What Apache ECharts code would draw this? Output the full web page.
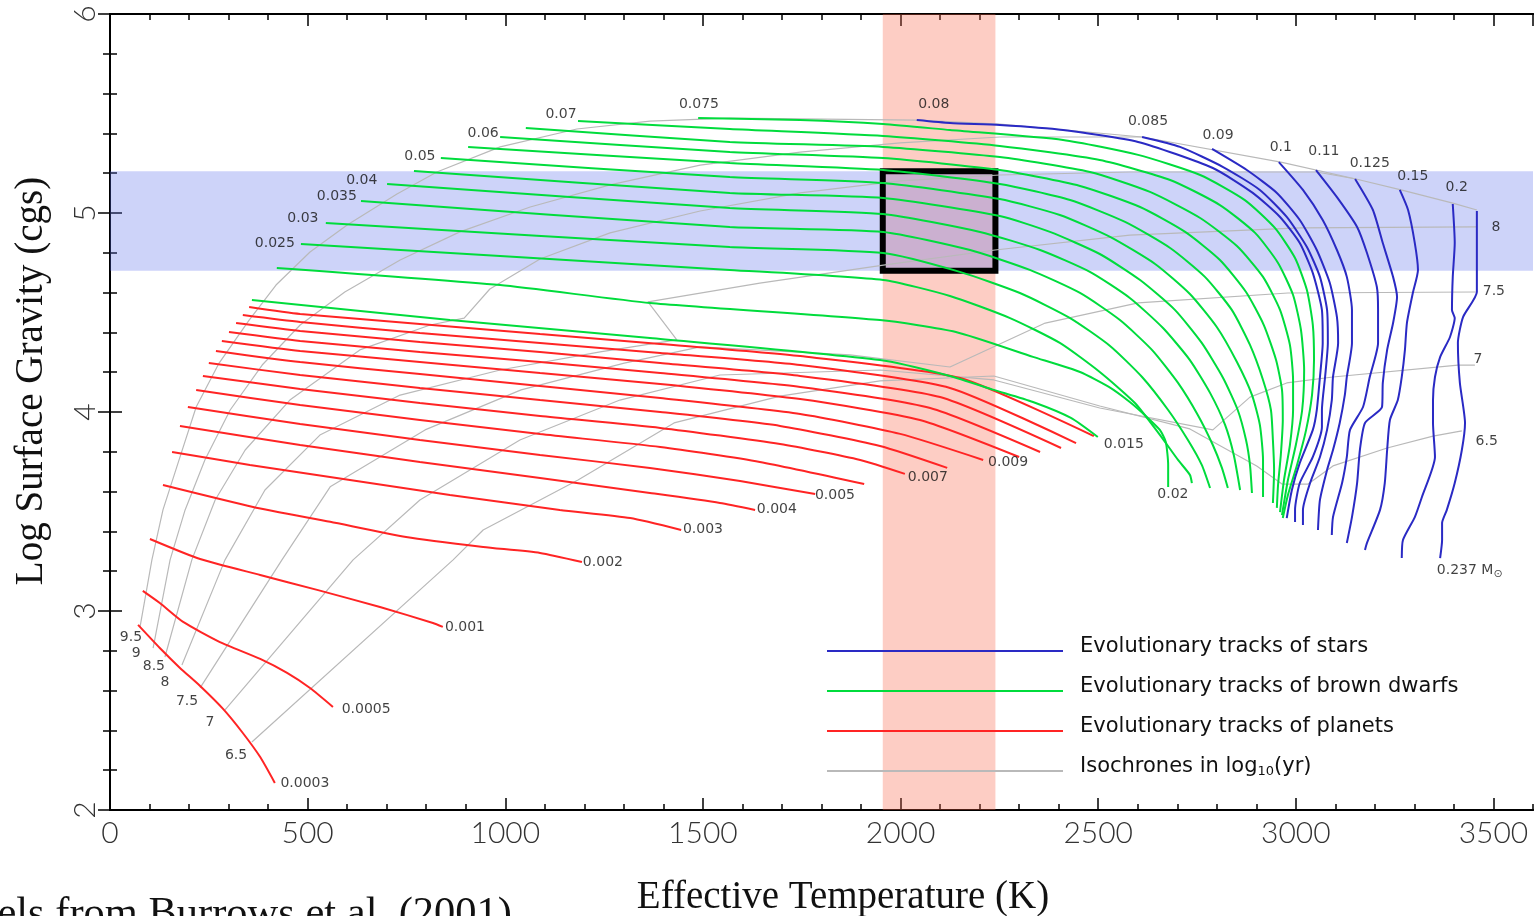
<!DOCTYPE html>
<html><head><meta charset="utf-8">
<script src="https://cdn.jsdelivr.net/npm/echarts@6/dist/echarts.min.js"></script>
<style>html,body{margin:0;padding:0;background:#fff}#c{width:1539px;height:916px}</style>
</head><body><div id="c"></div>
<script>
// ---- axis ticks ----
const xMajorTicks = [0, 500, 1000, 1500, 2000, 2500, 3000, 3500];
const yMajorTicks = [2, 3, 4, 5, 6];
// ---- shaded regions (Teff band, log g band) ----
const tempBand = [1955, 2240];
const gravBand = [4.71, 5.21];
// ---- planets (red) [Teff K, log g] ----
const p_0003 = [[71,2.930],[126,2.814],[177,2.714],[228,2.623],[286,2.508],[336,2.387],[380,2.266],[417,2.136]];
const p_0005 = [[83,3.101],[126,3.040],[185,2.945],[278,2.844],[380,2.759],[448,2.689],[506,2.613],[564,2.518]];
const p_001 = [[101,3.362],[228,3.261],[380,3.181],[524,3.106],[683,3.020],[817,2.940],[842,2.920]];
const p_002 = [[134,3.633],[362,3.523],[557,3.448],[749,3.372],[944,3.322],[1088,3.292],[1194,3.246]];
const p_003 = [[157,3.799],[354,3.734],[607,3.658],[860,3.583],[1138,3.508],[1316,3.467],[1445,3.407]];
const p_004 = [[177,3.930],[481,3.834],[784,3.749],[1088,3.668],[1366,3.593],[1543,3.543],[1632,3.508]];
const p_005 = [[197,4.025],[481,3.940],[784,3.859],[1088,3.784],[1366,3.719],[1594,3.653],[1784,3.588]];
const p_006 = [[218,4.111],[481,4.035],[784,3.960],[1088,3.889],[1392,3.824],[1644,3.749],[1908,3.638]];
const p_007 = [[235,4.181],[481,4.116],[784,4.045],[1088,3.980],[1392,3.920],[1695,3.839],[1898,3.759],[2011,3.689]];
const p_008 = [[250,4.246],[481,4.186],[784,4.121],[1088,4.060],[1392,4.000],[1695,3.930],[1948,3.829],[2118,3.719]];
const p_009 = [[268,4.307],[481,4.251],[784,4.191],[1088,4.131],[1392,4.070],[1746,3.990],[1999,3.890],[2209,3.759]];
const p_010 = [[283,4.357],[481,4.307],[784,4.251],[1088,4.196],[1392,4.141],[1746,4.065],[2049,3.960],[2300,3.774]];
const p_011 = [[301,4.402],[481,4.357],[784,4.302],[1088,4.251],[1392,4.196],[1746,4.126],[2075,4.020],[2353,3.799]];
const p_012 = [[319,4.447],[481,4.407],[784,4.352],[1088,4.302],[1392,4.246],[1746,4.181],[2100,4.075],[2406,3.819]];
const p_013 = [[336,4.487],[481,4.452],[784,4.397],[1088,4.347],[1392,4.297],[1746,4.236],[2125,4.121],[2444,3.844]];
const p_014 = [[352,4.528],[481,4.493],[784,4.442],[1088,4.392],[1392,4.342],[1746,4.281],[2151,4.171],[2489,3.879]];
// ---- brown dwarfs (green) ----
const bd_015 = [[359,4.563],[860,4.462],[1366,4.372],[1948,4.261],[2125,4.181],[2236,4.111],[2335,4.050],[2431,3.970],[2499,3.874]];
const bd_020 = [[422,4.724],[987,4.638],[1366,4.548],[1948,4.462],[2140,4.402],[2335,4.277],[2454,4.201],[2527,4.126],[2580,4.050],[2623,3.975],[2656,3.910],[2671,3.849],[2677,3.734],[2677,3.623]];
const bd_025 = [[483,4.844],[1568,4.714],[1956,4.663],[2125,4.583],[2277,4.472],[2403,4.347],[2504,4.201],[2593,4.045],[2656,3.885],[2702,3.759],[2732,3.684],[2737,3.643]];
const bd_030 = [[546,4.950],[1568,4.829],[1956,4.799],[2150,4.704],[2302,4.598],[2429,4.472],[2530,4.332],[2611,4.176],[2677,4.010],[2727,3.859],[2762,3.734],[2783,3.618]];
const bd_035 = [[635,5.060],[1568,4.930],[1956,4.905],[2176,4.814],[2327,4.714],[2454,4.598],[2555,4.462],[2636,4.312],[2702,4.146],[2752,3.985],[2790,3.834],[2813,3.719],[2828,3.618]];
const bd_040 = [[701,5.146],[1568,5.025],[1956,4.995],[2201,4.905],[2353,4.814],[2479,4.704],[2580,4.573],[2664,4.422],[2732,4.261],[2783,4.096],[2821,3.935],[2843,3.784],[2859,3.608]];
const bd_045 = [[769,5.211],[1568,5.101],[1956,5.075],[2251,4.985],[2378,4.905],[2504,4.794],[2606,4.663],[2694,4.513],[2762,4.347],[2816,4.171],[2853,4.010],[2874,3.859],[2884,3.734],[2889,3.593]];
const bd_050 = [[837,5.276],[1568,5.181],[1956,5.151],[2251,5.070],[2403,4.990],[2530,4.880],[2644,4.744],[2732,4.593],[2800,4.427],[2851,4.251],[2889,4.086],[2909,3.935],[2917,3.759],[2917,3.573]];
const bd_055 = [[906,5.332],[1568,5.251],[1956,5.216],[2251,5.146],[2429,5.065],[2568,4.955],[2682,4.824],[2770,4.679],[2838,4.513],[2884,4.337],[2917,4.161],[2937,4.010],[2942,3.859],[2945,3.709],[2942,3.543]];
const bd_060 = [[987,5.382],[1568,5.307],[1956,5.276],[2251,5.216],[2454,5.136],[2606,5.030],[2720,4.905],[2808,4.764],[2874,4.603],[2919,4.437],[2950,4.261],[2965,4.111],[2967,3.960],[2962,3.784],[2955,3.633],[2952,3.518]];
const bd_065 = [[1052,5.427],[1568,5.357],[1956,5.332],[2251,5.281],[2479,5.206],[2631,5.106],[2758,4.975],[2851,4.834],[2917,4.679],[2960,4.513],[2985,4.337],[2993,4.161],[2993,4.010],[2985,3.834],[2970,3.658],[2960,3.497]];
const bd_070 = [[1184,5.462],[1568,5.422],[1956,5.387],[2251,5.337],[2504,5.266],[2682,5.166],[2808,5.040],[2897,4.900],[2955,4.749],[2993,4.588],[3013,4.412],[3021,4.211],[3016,4.010],[3000,3.834],[2980,3.658],[2965,3.482]];
const bd_075 = [[1488,5.477],[1746,5.467],[1956,5.447],[2125,5.417],[2411,5.367],[2601,5.292],[2758,5.191],[2871,5.065],[2947,4.925],[2998,4.774],[3028,4.613],[3043,4.437],[3046,4.261],[3041,4.086],[3026,3.910],[3003,3.734],[2980,3.583],[2967,3.467]];
// ---- stars (blue) ----
const st_080 = [[2041,5.467],[2125,5.452],[2251,5.442],[2411,5.417],[2601,5.357],[2790,5.226],[2891,5.101],[2960,4.980],[3010,4.849],[3043,4.698],[3066,4.513],[3068,4.347],[3061,4.176],[3053,4.010],[3043,3.910],[3010,3.744],[2990,3.608],[2977,3.467]];
const st_085 = [[2611,5.382],[2707,5.332],[2816,5.231],[2909,5.116],[2977,4.980],[3028,4.829],[3061,4.679],[3079,4.513],[3081,4.347],[3074,4.176],[3066,4.010],[3066,3.925],[3043,3.774],[3010,3.643],[2998,3.508],[2998,3.447]];
const st_090 = [[2788,5.322],[2876,5.216],[2952,5.101],[3010,4.965],[3053,4.814],[3086,4.648],[3104,4.477],[3107,4.347],[3094,4.176],[3091,4.060],[3079,3.910],[3061,3.774],[3036,3.643],[3018,3.508],[3018,3.432]];
const st_100 = [[2957,5.256],[3018,5.116],[3068,4.965],[3104,4.814],[3129,4.679],[3142,4.513],[3142,4.347],[3129,4.176],[3124,4.086],[3111,3.945],[3094,3.809],[3079,3.709],[3061,3.558],[3056,3.407]];
const st_110 = [[3051,5.216],[3104,5.080],[3155,4.930],[3180,4.799],[3205,4.628],[3208,4.513],[3208,4.347],[3187,4.176],[3170,4.025],[3137,3.910],[3129,3.774],[3117,3.643],[3094,3.472],[3091,3.382]];
const st_125 = [[3150,5.171],[3195,5.015],[3220,4.849],[3246,4.679],[3256,4.578],[3246,4.447],[3231,4.312],[3220,4.146],[3218,4.025],[3175,3.945],[3162,3.809],[3155,3.643],[3142,3.472],[3129,3.342]];
const st_150 = [[3263,5.116],[3284,5.015],[3301,4.849],[3309,4.714],[3296,4.598],[3281,4.447],[3276,4.312],[3268,4.176],[3258,4.060],[3238,3.960],[3231,3.809],[3225,3.643],[3213,3.508],[3180,3.342],[3175,3.307]];
const st_200 = [[3397,5.045],[3402,4.849],[3397,4.679],[3395,4.513],[3402,4.472],[3390,4.377],[3365,4.276],[3352,4.176],[3347,4.060],[3347,3.945],[3352,3.774],[3319,3.573],[3301,3.472],[3271,3.357],[3268,3.266]];
const st_237 = [[3458,5.010],[3458,4.814],[3458,4.603],[3423,4.477],[3410,4.347],[3415,4.146],[3428,3.945],[3420,3.809],[3402,3.643],[3382,3.508],[3370,3.442],[3370,3.357],[3365,3.266]];
// ---- isochrones (grey), log10 age ----
const iso_95 = [[76,2.920],[106,3.257],[134,3.508],[169,3.724],[218,4.025],[276,4.246],[352,4.462],[420,4.638],[506,4.804],[600,4.940],[726,5.095],[827,5.206],[987,5.332],[1181,5.422],[1366,5.462],[1568,5.477],[2041,5.467],[2251,5.447],[2611,5.382],[2962,5.256],[3152,5.171],[3266,5.116],[3397,5.050],[3458,5.015]];
const iso_90 = [[109,2.814],[152,3.257],[190,3.508],[240,3.759],[304,4.010],[385,4.236],[481,4.437],[594,4.603],[734,4.764],[885,4.905],[1063,5.030],[1265,5.141],[1493,5.241],[1746,5.306],[1999,5.352],[2251,5.382],[2611,5.382]];
const iso_85 = [[139,2.769],[207,3.257],[266,3.558],[342,3.809],[455,4.060],[632,4.312],[810,4.437],[896,4.472],[961,4.618],[1088,4.769],[1265,4.900],[1493,5.010],[1746,5.101],[1999,5.161],[2251,5.191],[2580,5.206],[3053,5.206],[3152,5.171]];
const iso_80 = [[182,2.729],[291,3.257],[392,3.608],[531,3.884],[734,4.085],[987,4.211],[1240,4.302],[1434,4.362],[1361,4.553],[1644,4.648],[1961,4.739],[2239,4.814],[2580,4.889],[3010,4.925],[3458,4.930]];
const iso_75 = [[228,2.614],[435,3.257],[557,3.624],[797,3.910],[1040,4.111],[1301,4.246],[1493,4.327],[1872,4.287],[2125,4.226],[2366,4.447],[2601,4.548],[2980,4.598],[3455,4.603]];
const iso_70 = [[291,2.503],[615,3.257],[784,3.558],[1037,3.859],[1290,4.060],[1543,4.186],[1948,4.211],[2236,4.161],[2504,4.020],[2790,3.910],[2884,4.075],[2977,4.146],[3094,4.176],[3410,4.236],[3453,4.236]];
const iso_65 = [[359,2.342],[868,3.257],[944,3.407],[1184,3.658],[1427,3.945],[1695,4.080],[1948,4.156],[2236,4.181],[2504,4.030],[2732,3.915],[2901,3.729],[2965,3.638],[3031,3.638],[3094,3.729],[3231,3.819],[3347,3.879],[3420,3.905]];
// ---- text labels [Teff, log g, text] ----
const massLabels = [[1490,5.548,'0.075'],[1141,5.497,'0.07'],[944,5.402,'0.06'],[784,5.286,'0.05'],[637,5.166,'0.04'],[574,5.085,'0.035'],[488,4.975,'0.03'],[417,4.849,'0.025'],
  [2084,5.548,'0.08'],[2626,5.462,'0.085'],[2803,5.392,'0.09'],[2962,5.332,'0.1'],[3071,5.312,'0.11'],[3187,5.251,'0.125'],[3296,5.186,'0.15'],[3407,5.131,'0.2'],
  [2565,3.839,'0.015'],[2689,3.588,'0.02'],[2272,3.749,'0.009'],[2069,3.673,'0.007'],[1834,3.583,'0.005'],[1687,3.513,'0.004'],[1500,3.412,'0.003'],[1247,3.246,'0.002'],[898,2.920,'0.001'],[648,2.508,'0.0005'],[493,2.136,'0.0003']];
const isoLabels = [[3506,4.930,'8'],[3501,4.608,'7.5'],[3461,4.266,'7'],[3483,3.854,'6.5'],[53,2.869,'9.5'],[66,2.789,'9'],[111,2.724,'8.5'],[139,2.643,'8'],[195,2.548,'7.5'],[253,2.442,'7'],[319,2.276,'6.5']];
const sunLabel = [[3440,3.206,'0.237 M']];
const legendNames = ['Evolutionary tracks of stars','Evolutionary tracks of brown dwarfs','Evolutionary tracks of planets','Isochrones'];

const planets = [p_0003,p_0005,p_001,p_002,p_003,p_004,p_005,p_006,p_007,p_008,p_009,p_010,p_011,p_012,p_013,p_014];
const dwarfs = [bd_015,bd_020,bd_025,bd_030,bd_035,bd_040,bd_045,bd_050,bd_055,bd_060,bd_065,bd_070,bd_075];
const stars = [st_080,st_085,st_090,st_100,st_110,st_125,st_150,st_200,st_237];
const isochrones = [iso_95,iso_90,iso_85,iso_80,iso_75,iso_70,iso_65];

const C_STAR = '#2a2ac4', C_BD = '#00dc3c', C_PL = '#ff2424', C_ISO = '#b9b9b9';
const SANS = 'Lato, "DejaVu Sans", sans-serif';
const WIDE = '"DejaVu Sans", sans-serif';
const SERIF = '"Liberation Serif", "DejaVu Serif", serif';

function line(name, data, color, width, z, smooth) {
  return {type:'line', name, data, symbol:'none', showSymbol:false, smooth, silent:true,
    lineStyle:{color, width}, itemStyle:{color}, z, animation:false};
}
const series = [];
isochrones.forEach(d => series.push(line(legendNames[3], d, C_ISO, 1.2, 2, false)));
planets.forEach(d => series.push(line(legendNames[2], d, C_PL, 2, 3, 0.2)));
dwarfs.forEach(d => series.push(line(legendNames[1], d, C_BD, 2, 3, 0.2)));
stars.forEach(d => series.push(line(legendNames[0], d, C_STAR, 2, 3, 0.2)));

const lblStyle = {show:true, position:'inside', color:'#111', fontFamily:WIDE, fontSize:14};
series.push({type:'scatter', data:massLabels, symbolSize:1, itemStyle:{color:'rgba(0,0,0,0)'}, z:4, silent:true,
  label:Object.assign({}, lblStyle, {formatter:p => p.data[2]})});
series.push({type:'scatter', data:isoLabels, symbolSize:1, itemStyle:{color:'rgba(0,0,0,0)'}, z:4, silent:true,
  label:Object.assign({}, lblStyle, {formatter:p => p.data[2]})});
series.push({type:'scatter', data:sunLabel, symbolSize:1, itemStyle:{color:'rgba(0,0,0,0)'}, z:4, silent:true,
  label:Object.assign({}, lblStyle, {formatter:p => p.data[2] + '{s|\u2299}', rich:{s:{fontFamily:WIDE, fontSize:11, color:'#111', padding:[8,0,0,0]}}})});
// pink temperature band
series.push({type:'line', data:[], z:10, silent:true, markArea:{silent:true, itemStyle:{color:'rgba(250,100,70,0.32)'},
  data:[[{xAxis:tempBand[0], yAxis:2},{xAxis:tempBand[1], yAxis:6}]]}});
// blue gravity band
series.push({type:'line', data:[], z:11, silent:true, markArea:{silent:true, itemStyle:{color:'rgba(90,110,235,0.30)'},
  data:[[{xAxis:0, yAxis:gravBand[0]},{xAxis:3600, yAxis:gravBand[1]}]]}});
// black box
series.push({type:'line', data:[], z:12, silent:true, markArea:{silent:true, itemStyle:{color:'rgba(0,0,0,0)', borderColor:'#000', borderWidth:6},
  data:[[{xAxis:tempBand[0], yAxis:gravBand[0]},{xAxis:tempBand[1], yAxis:gravBand[1]}]]}});

const tickStyle = {color:'#000', width:1.5};
function xAx(pos, interval, len, labels) {
  return {type:'value', min:0, max:3600, interval, position:pos, gridIndex:0,
    axisLine:{show:true, lineStyle:{color:'#000', width:2}}, splitLine:{show:false},
    axisTick:{show:true, inside:true, length:len, lineStyle:tickStyle},
    axisLabel:{show:labels, margin:8, fontSize:30, fontWeight:300, color:'#333', fontFamily:SANS, showMaxLabel:false,
      formatter:v => String(v)}};
}
function yAx(pos, labels) {
  return {type:'value', min:2, max:6, interval:1, position:pos, gridIndex:0,
    axisLine:{show:true, lineStyle:{color:'#000', width:2}}, splitLine:{show:false},
    axisTick:{show:true, inside:true, length:12, lineStyle:tickStyle},
    minorTick:{show:true, splitNumber:5, length:7, lineStyle:tickStyle},
    axisLabel:{show:labels, rotate:90, margin:10, fontSize:30, fontWeight:300, color:'#333', fontFamily:SANS, formatter:v => String(v)}};
}

const chart = echarts.init(document.getElementById('c'), null, {renderer:'canvas'});
chart.setOption({
  animation:false,
  backgroundColor:'#fff',
  grid:{left:110, top:14, width:1423, height:796},
  xAxis:[xAx('bottom',500,12,true), xAx('bottom',100,6,false), xAx('top',500,12,false), xAx('top',100,6,false)],
  yAxis:[yAx('left',true), yAx('right',false)],
  legend:{left:822, top:631, orient:'vertical', icon:'rect', itemWidth:236, itemHeight:2, itemGap:10, selectedMode:false,
    data:legendNames, formatter:n => n === 'Isochrones' ? 'Isochrones in log{s|10}(yr)' : n,
    textStyle:{fontFamily:WIDE, fontSize:21, color:'#111', lineHeight:22, padding:[0,0,8,12],
      rich:{s:{fontFamily:WIDE, fontSize:13, color:'#111', padding:[9,0,0,0]}}}},
  series,
  graphic:[
    {type:'text', x:32, y:381, rotation:Math.PI/2, style:{text:'Log Surface Gravity (cgs)', font:'39px ' + SERIF, fill:'#111', align:'center', verticalAlign:'middle'}},
    {type:'text', x:843, y:898, style:{text:'Effective Temperature (K)', font:'39px ' + SERIF, fill:'#111', align:'center', verticalAlign:'middle'}},
    {type:'text', x:512, y:915, style:{text:'Models from Burrows et al. (2001)', font:'42.5px ' + SERIF, fill:'#111', align:'right', verticalAlign:'middle'}}
  ]
});
</script></body></html>
